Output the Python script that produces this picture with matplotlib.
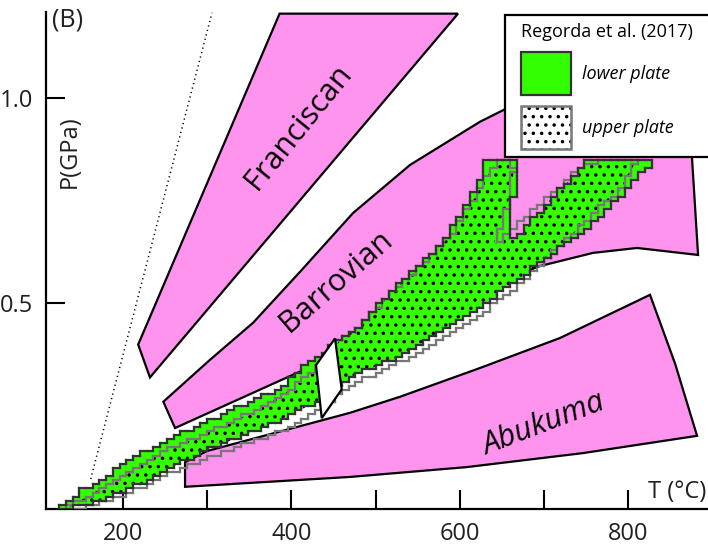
import numpy as np
import matplotlib
matplotlib.use('Agg')
import matplotlib.pyplot as plt
from matplotlib.patches import Polygon, PathPatch, Patch, Rectangle
from matplotlib.path import Path
from matplotlib.collections import LineCollection
from matplotlib.colors import to_rgba

plt.rcParams['font.family'] = ['Open Sans', 'DejaVu Sans']
plt.rcParams['hatch.linewidth'] = 1.3

PINK = '#FF94EE'
GREEN = '#33FF00'
DARK = '#333333'
GRAY = '#777777'

# ---------------- data ----------------
xticks = [200, 300, 400, 500, 600, 700, 800]
xtick_labels = ['200', '', '400', '', '600', '', '800']
yticks = [0.5, 1.0]
ytick_labels = ['0.5', '1.0']

# metamorphic field gradients (T in degC, P in GPa)
franciscan_T = [218, 386, 598, 232]
franciscan_P = [0.40, 1.205, 1.205, 0.32]

barrovian_T = [247.9, 261.8, 430.5, 600.4, 695.4, 758.4, 810.7, 883.2, 876.0, 873.6,
               766.7, 695.4, 624.1, 541.0, 473.3, 410.3, 354.5, 303.4]
barrovian_P = [0.261, 0.197, 0.353, 0.516, 0.591, 0.623, 0.635, 0.618, 0.854, 0.895,
               1.063, 1.015, 0.942, 0.837, 0.720, 0.577, 0.453, 0.363]

abukuma_T = [273.7, 299.8, 469.7, 529.1, 624.1, 719.2, 826.1, 856.0, 882.0, 746.5, 608.7, 469.7, 273.7]
abukuma_P = [0.114, 0.141, 0.234, 0.273, 0.343, 0.416, 0.521, 0.353, 0.178, 0.136, 0.102, 0.078, 0.054]

# Regorda et al. (2017) - lower plate P-T field
lower_T = [122.8, 160.8, 200.0, 232.1, 267.7, 291.5, 323.6, 350.9, 386.5, 429.3, 461.4, 489.9,
           529.1, 582.6, 636.0, 656.2, 680.0, 695.4, 719.2, 754.8, 786.9, 810.7, 834.4,
           754.8, 739.4, 707.3, 680.0, 656.2, 657.4, 662.2, 668.1, 671.7, 632.5,
           620.6, 604.0, 585.0, 556.4, 520.8, 501.8, 481.6, 454.3, 437.6, 425.7, 390.1,
           350.9, 311.7, 287.9, 259.4, 232.1, 204.8, 181.0, 152.5, 131.1]
lower_P = [0.000, 0.012, 0.041, 0.073, 0.112, 0.136, 0.163, 0.187, 0.217, 0.260, 0.307, 0.338,
           0.372, 0.436, 0.509, 0.538, 0.574, 0.596, 0.637, 0.686, 0.752, 0.808, 0.854,
           0.854, 0.818, 0.752, 0.686, 0.650, 0.710, 0.745, 0.793, 0.849, 0.849,
           0.783, 0.728, 0.662, 0.599, 0.533, 0.491, 0.443, 0.411, 0.380, 0.363, 0.297,
           0.258, 0.224, 0.200, 0.175, 0.144, 0.119, 0.078, 0.046, 0.010]

# Regorda et al. (2017) - upper plate P-T field
upper_T = [125.1, 163.2, 200.0, 232.1, 267.7, 297.4, 329.5, 356.8, 392.5, 429.3, 463.8, 493.5,
           529.1, 564.7, 600.4, 636.0, 675.1, 706.0, 738.2, 765.6, 794.1, 809.5,
           766.7, 743.0, 713.3, 683.6, 653.9, 639.6, 651.5, 659.8, 664.5, 662.2, 644.4,
           628.9, 612.3, 594.5, 564.7, 529.1, 505.3, 483.9, 457.8, 431.7, 398.4, 360.4,
           321.2, 291.5, 263.0, 235.6, 208.3, 184.6, 156.0, 134.7]
upper_P = [0.000, 0.007, 0.032, 0.061, 0.097, 0.122, 0.146, 0.165, 0.192, 0.231, 0.290, 0.321,
           0.358, 0.394, 0.436, 0.489, 0.550, 0.616, 0.676, 0.732, 0.781, 0.849,
           0.849, 0.830, 0.771, 0.720, 0.662, 0.642, 0.698, 0.764, 0.825, 0.849, 0.849,
           0.796, 0.740, 0.679, 0.611, 0.545, 0.496, 0.448, 0.411, 0.348, 0.290, 0.241,
           0.204, 0.178, 0.153, 0.124, 0.095, 0.063, 0.029, 0.005]

# white box
box_T = [451.9, 429.3, 436.1, 459.8]
box_P = [0.415, 0.350, 0.221, 0.291]

# dotted reference gradient
dotted_T = [161.6, 305.7]
dotted_P = [0.073, 1.207]

legend_title = 'Regorda et al. (2017)'
legend_labels = ['lower plate', 'upper plate']

# model grid (cell size) used for the stepped model fields
T_edges = np.arange(100.0, 908.0, 8.0)
P_edges = np.arange(0.0, 1.22, 0.010)

# ---------------- figure ----------------
fig = plt.figure(figsize=(7.08, 5.5), dpi=100)
ax = fig.add_axes([46 / 708, 41 / 550, 662 / 708, 497 / 550])

for T, P in [(franciscan_T, franciscan_P), (barrovian_T, barrovian_P), (abukuma_T, abukuma_P)]:
    ax.add_patch(Polygon(np.column_stack([T, P]), closed=True, facecolor=PINK,
                         edgecolor='black', linewidth=1.6, zorder=1, joinstyle='miter'))

ax.plot(dotted_T, dotted_P, linestyle=(0, (0.8, 2.2)), color='black', linewidth=1.1, zorder=1)

Tc = 0.5 * (T_edges[1:] + T_edges[:-1])
Pc = 0.5 * (P_edges[1:] + P_edges[:-1])
TT, PP = np.meshgrid(Tc, Pc)


def grid_mask(T, P):
    path = Path(np.column_stack([T, P]))
    return path.contains_points(np.column_stack([TT.ravel(), PP.ravel()])).reshape(TT.shape)


def stair_segments(mask):
    segs = []
    pad = np.pad(mask, 1)
    dv = pad[1:-1, 1:] != pad[1:-1, :-1]
    for i, j in zip(*np.nonzero(dv)):
        segs.append([(T_edges[j], P_edges[i]), (T_edges[j], P_edges[i + 1])])
    dh = pad[1:, 1:-1] != pad[:-1, 1:-1]
    for i, j in zip(*np.nonzero(dh)):
        segs.append([(T_edges[j], P_edges[i]), (T_edges[j + 1], P_edges[i])])
    return segs


lower_mask = grid_mask(lower_T, lower_P)
upper_mask = grid_mask(upper_T, upper_P)

rgba = np.zeros(lower_mask.shape + (4,))
rgba[lower_mask] = to_rgba(GREEN)
ax.imshow(rgba, extent=(T_edges[0], T_edges[-1], P_edges[0], P_edges[-1]), origin='lower',
          aspect='auto', interpolation='nearest', zorder=3)

dots = PathPatch(Path(np.column_stack([upper_T, upper_P])), facecolor='none',
                 edgecolor='black', linewidth=0, hatch='..', zorder=4)
ax.add_patch(dots)
clip_poly = Polygon(np.column_stack([lower_T, lower_P]), closed=True, transform=ax.transData)
dots.set_clip_path(clip_poly)

ax.add_collection(LineCollection(stair_segments(upper_mask), colors=GRAY, linewidths=1.6,
                                 capstyle='projecting', zorder=5))
ax.add_collection(LineCollection(stair_segments(lower_mask), colors=DARK, linewidths=1.6,
                                 capstyle='projecting', zorder=6))

ax.add_patch(Polygon(np.column_stack([box_T, box_P]), closed=True, facecolor='white',
                     edgecolor='black', linewidth=1.6, zorder=7))

ax.set_xlim(108.5, 895.0)
ax.set_ylim(0, 1.209)

# field labels
ax.text(408, 0.929, 'Franciscan', rotation=51, rotation_mode='anchor', ha='center', va='center',
        fontsize=22, zorder=8)
ax.text(453, 0.553, 'Barrovian', rotation=41, rotation_mode='anchor', ha='center', va='center',
        fontsize=22, zorder=8)
ax.text(700, 0.205, 'Abukuma', rotation=21, rotation_mode='anchor', ha='center', va='center',
        fontsize=22, style='italic', zorder=8)

# axes styling
for s in ['top', 'right']:
    ax.spines[s].set_visible(False)
for s in ['left', 'bottom']:
    ax.spines[s].set_linewidth(1.6)
ax.set_xticks(xticks)
ax.set_xticklabels(xtick_labels)
ax.set_yticks(yticks)
ax.set_yticklabels(ytick_labels)
ax.tick_params(axis='both', direction='in', length=13.7, width=1.5, labelsize=17,
               labelcolor='#231f20', pad=9)

ax.set_ylabel('P(GPa)', fontsize=17, rotation=90, ha='center', va='center', color='#231f20')
ax.yaxis.set_label_coords(0.036, 0.718)
ax.set_xlabel('T (°C)', fontsize=17, ha='right', va='center', color='#231f20')
ax.xaxis.set_label_coords(0.997, 0.034)
ax.text(0.0095, 0.984, '(B)', transform=ax.transAxes, ha='left', va='center', fontsize=18,
        color='#231f20')

# legend (white box drawn behind a frameless legend)
fig.add_artist(Rectangle((505 / 708, 1 - 157 / 550), 0.30, 142 / 550, transform=fig.transFigure,
                         facecolor='white', edgecolor='black', linewidth=1.6, zorder=4))
h_lower = Patch(facecolor=GREEN, edgecolor=DARK, linewidth=1.6)
h_upper = (Patch(facecolor='white', edgecolor='black', linewidth=0, hatch='..'),
           Patch(facecolor='none', edgecolor=GRAY, linewidth=1.8))
leg = fig.legend([h_lower, h_upper], legend_labels, title=legend_title, loc='upper left',
                 bbox_to_anchor=(521 / 708, 1 - 23 / 550), frameon=False, alignment='left',
                 prop={'size': 13, 'style': 'italic'}, title_fontproperties={'size': 13},
                 handlelength=2.77, handleheight=3.285, labelspacing=0.62, borderpad=0,
                 handletextpad=0.6, borderaxespad=0)
leg.set_zorder(5)

fig.savefig('out.png', dpi=100)
